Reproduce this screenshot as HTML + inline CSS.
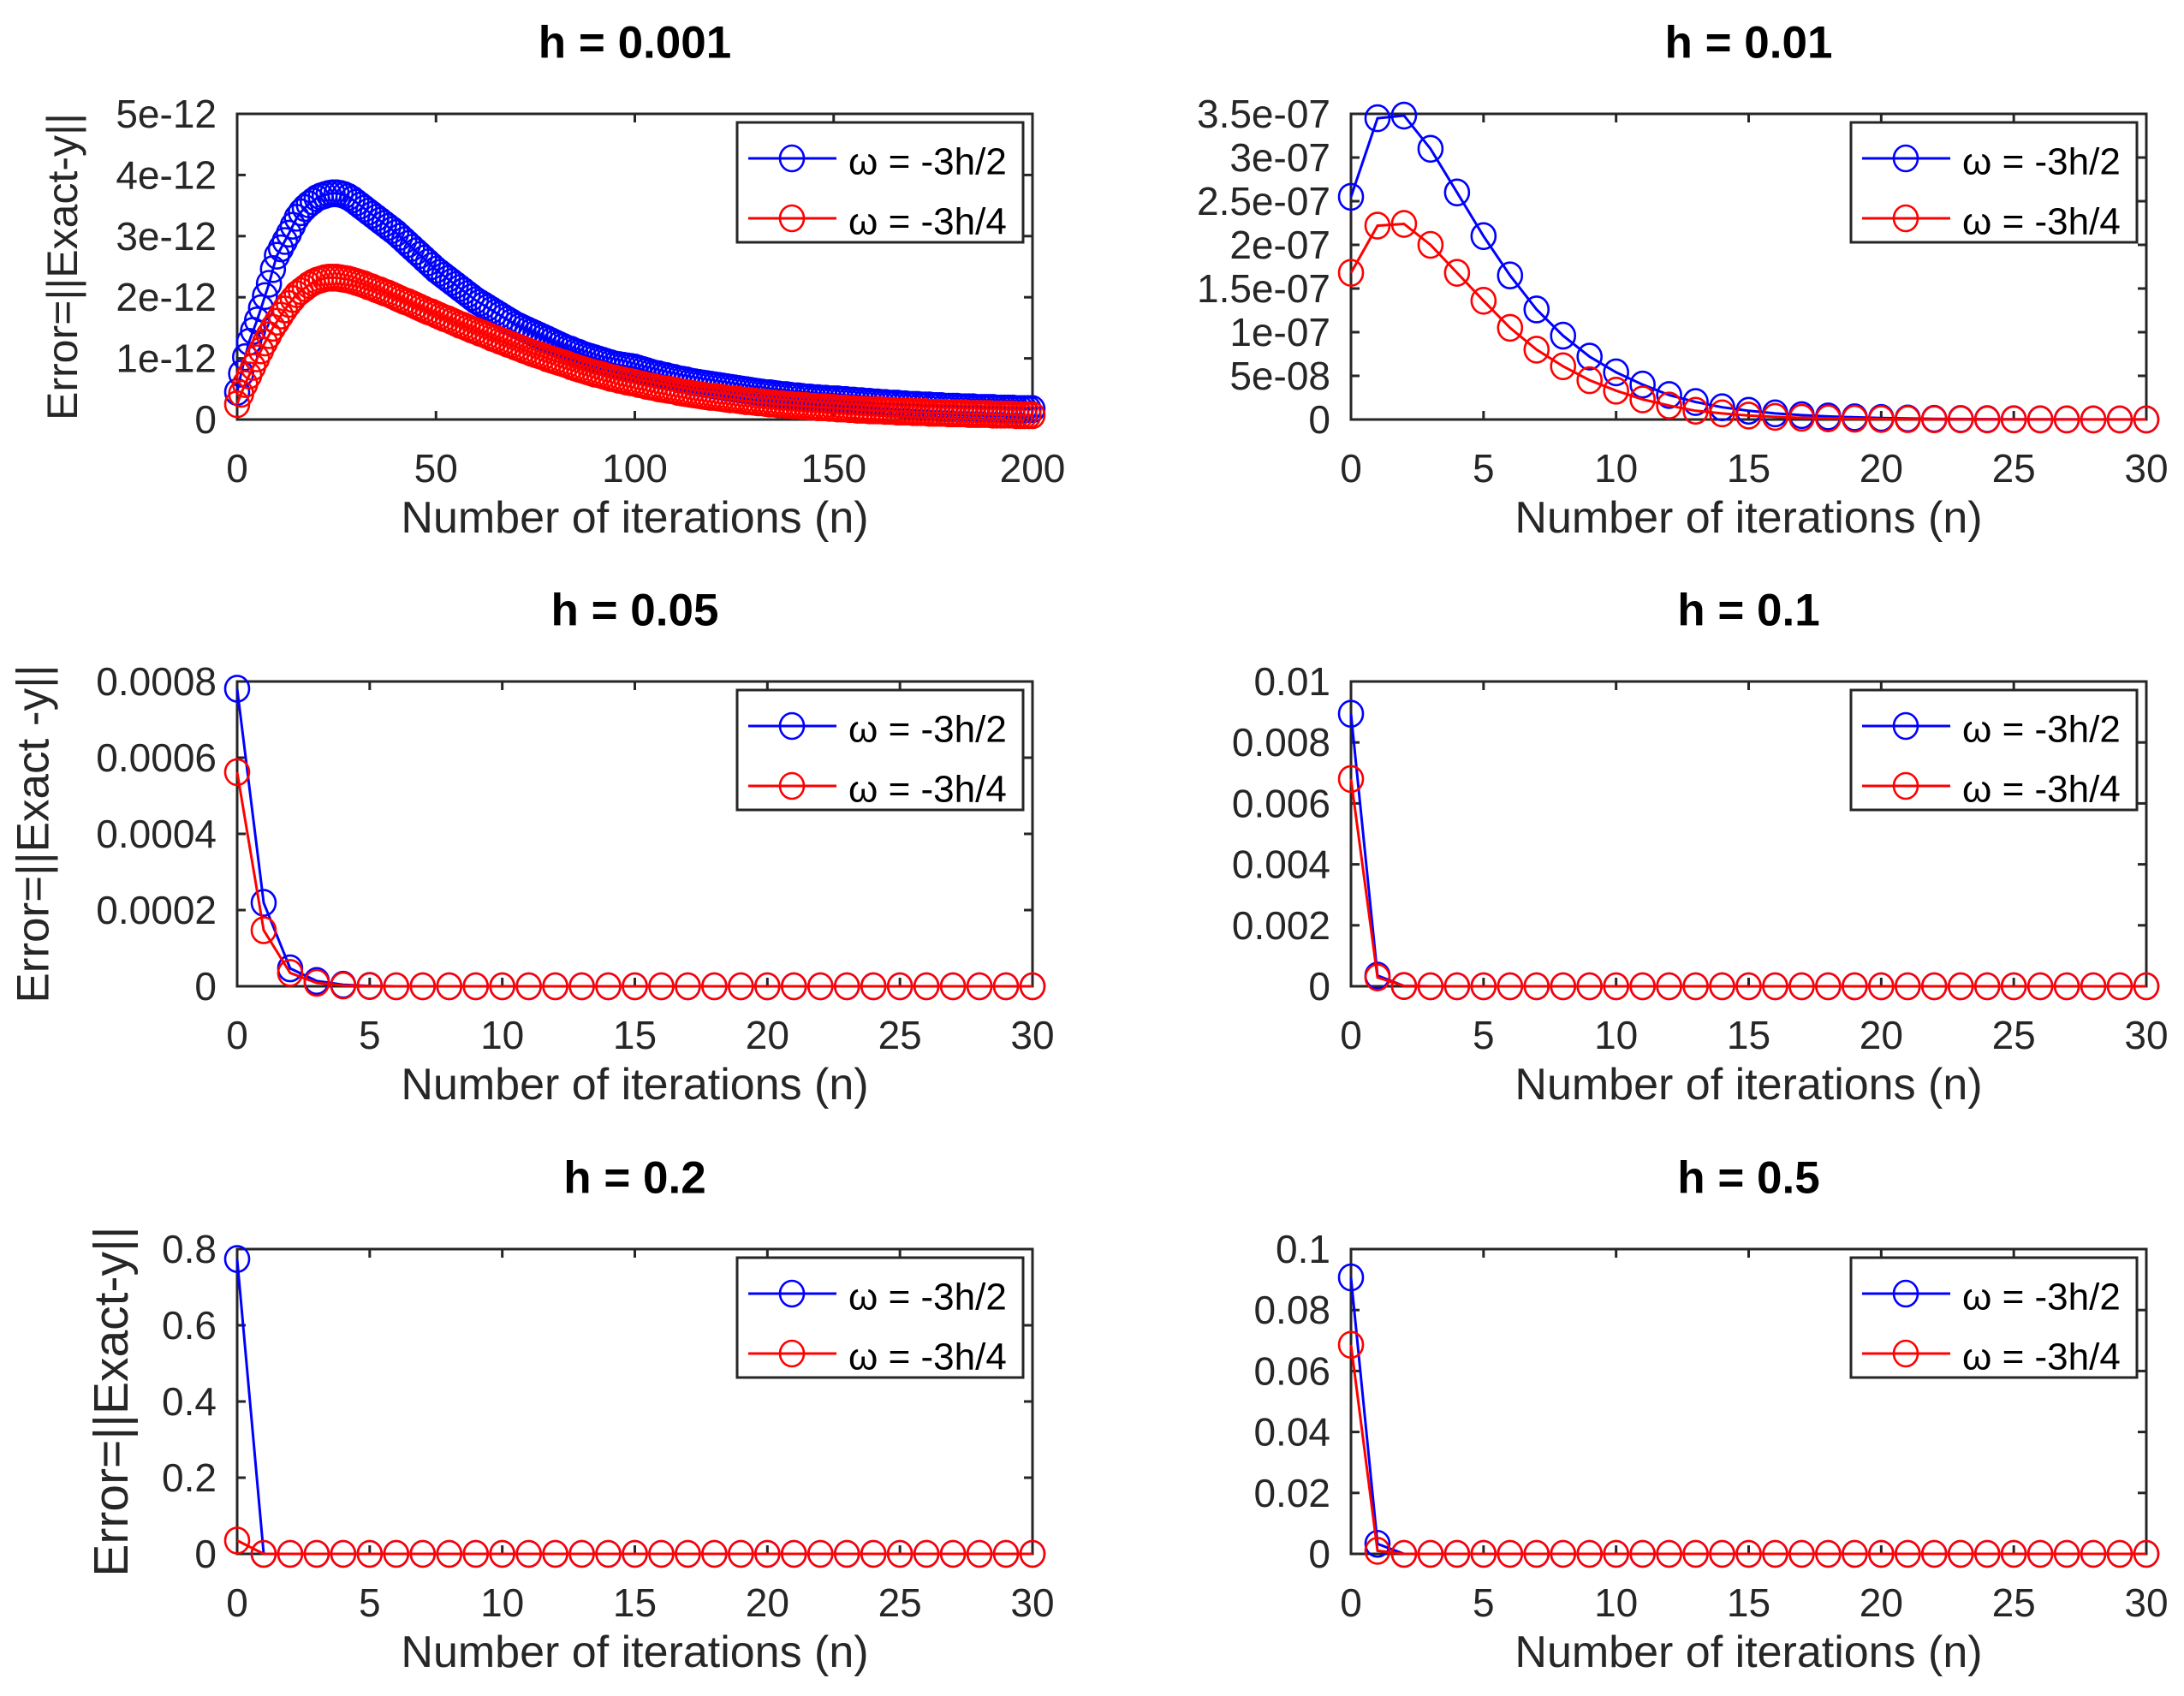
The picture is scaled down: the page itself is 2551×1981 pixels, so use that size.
<!DOCTYPE html>
<html><head><meta charset="utf-8"><style>
html,body{margin:0;padding:0;background:#fff;}
svg{display:block;font-family:"Liberation Sans",sans-serif;}
</style></head><body>
<svg id="fig" width="2551" height="1981" viewBox="0 0 2551 1981" xmlns="http://www.w3.org/2000/svg"></svg>
<script>
// ---------- data ----------
const p1Blue = [0.45,0.75,1.02,1.27,1.45,1.62,1.82,2.02,2.22,2.46,2.68,2.8,2.92,3.04,3.17,3.3,3.39,3.46,3.52,3.57,3.62,3.65,3.67,3.69,3.7,
3.7,3.69,3.67,3.64,3.6,3.55,3.5,3.45,3.4,3.35,3.3,3.25,3.2,3.15,3.1,3.05,2.99,2.93,2.87,2.81,2.75,2.69,2.63,2.57,2.51,2.45,
2.4,2.35,2.3,2.25,2.2,2.15,2.1,2.05,2.0,1.95,1.91,1.87,1.83,1.79,1.75,1.71,1.67,1.63,1.59,1.55,1.52,1.49,1.46,1.43,1.4,
1.37,1.34,1.31,1.28,1.25,1.22,1.19,1.16,1.14,1.11,1.09,1.06,1.04,1.02,1.0,0.98,0.96,0.94,0.92,0.9,0.89,0.88,0.87,0.86,0.85,
0.83,0.81,0.79,0.77,0.75,0.74,0.72,0.71,0.69,0.68,0.66,0.65,0.64,0.62,0.61,0.6,0.59,0.58,0.57,0.56,0.55,0.54,0.53,0.52,0.51,
0.5,0.49,0.48,0.47,0.46,0.45,0.44,0.43,0.43,0.42,0.41,0.4,0.4,0.39,0.38,0.38,0.37,0.36,0.36,0.35,0.35,0.34,0.34,0.33,0.33,
0.33,0.32,0.32,0.31,0.31,0.3,0.3,0.29,0.29,0.28,0.28,0.27,0.27,0.26,0.26,0.26,0.25,0.25,0.24,0.24,0.24,0.23,0.23,0.23,0.22,
0.22,0.22,0.21,0.21,0.21,0.21,0.2,0.2,0.2,0.2,0.19,0.19,0.19,0.19,0.19,0.18,0.18,0.18,0.18,0.18,0.17,0.17,0.17,0.17,0.17];
const p1Red = [0.25,0.42,0.58,0.72,0.86,1.0,1.13,1.26,1.38,1.5,1.6,1.7,1.8,1.89,1.97,2.05,2.1,2.15,2.2,2.24,2.27,2.29,2.31,2.32,2.32,
2.32,2.31,2.3,2.29,2.27,2.25,2.23,2.21,2.18,2.16,2.13,2.11,2.08,2.06,2.03,2.0,1.97,1.94,1.92,1.89,1.86,1.83,1.8,1.77,1.75,1.72,
1.69,1.66,1.64,1.61,1.58,1.55,1.53,1.5,1.47,1.45,1.42,1.4,1.37,1.34,1.32,1.29,1.27,1.24,1.22,1.19,1.17,1.14,1.12,1.09,1.07,
1.05,1.03,1.0,0.98,0.96,0.94,0.92,0.9,0.87,0.85,0.83,0.81,0.79,0.77,0.75,0.74,0.72,0.7,0.68,0.67,0.65,0.64,0.62,0.61,0.6,
0.58,0.57,0.55,0.54,0.53,0.51,0.5,0.49,0.48,0.47,0.45,0.44,0.43,0.42,0.41,0.4,0.39,0.38,0.37,0.37,0.36,0.35,0.34,0.33,0.33,
0.32,0.31,0.3,0.3,0.29,0.28,0.28,0.27,0.26,0.26,0.25,0.25,0.24,0.24,0.23,0.23,0.22,0.22,0.21,0.21,0.2,0.2,0.2,0.19,0.19,
0.18,0.18,0.18,0.17,0.17,0.16,0.16,0.16,0.15,0.15,0.15,0.15,0.14,0.14,0.14,0.13,0.13,0.13,0.13,0.12,0.12,0.12,0.12,0.11,0.11,
0.11,0.11,0.11,0.1,0.1,0.1,0.1,0.1,0.09,0.09,0.09,0.09,0.09,0.09,0.08,0.08,0.08,0.08,0.08,0.08,0.07,0.07,0.07,0.07,0.07];
const p2Blue = [2.55,3.45,3.48,3.1,2.6,2.1,1.65,1.26,0.96,0.72,0.54,0.4,0.28,0.2,0.14,0.1,0.07,0.05,0.035,0.025,0.018,0.012,0.008,0.006,0.004,0.003,0.002,0.0015,0.001,0.0007,0.0005];
const p2Red = [1.68,2.22,2.24,2.0,1.68,1.36,1.05,0.8,0.61,0.45,0.33,0.23,0.16,0.1,0.07,0.045,0.03,0.02,0.013,0.009,0.006,0.004,0.003,0.002,0.001,0.001,0.0005,0.0003,0.0002,0.0001,0.0001];
const p3Blue = [7.81,2.19,0.47,0.14,0.04,0.01,0,0,0,0,0,0,0,0,0,0,0,0,0,0,0,0,0,0,0,0,0,0,0,0,0];
const p3Red = [5.62,1.47,0.35,0.09,0.02,0.005,0,0,0,0,0,0,0,0,0,0,0,0,0,0,0,0,0,0,0,0,0,0,0,0,0];
const p4Blue = [8.94,0.35,0.01,0,0,0,0,0,0,0,0,0,0,0,0,0,0,0,0,0,0,0,0,0,0,0,0,0,0,0,0];
const p4Red = [6.8,0.29,0.01,0,0,0,0,0,0,0,0,0,0,0,0,0,0,0,0,0,0,0,0,0,0,0,0,0,0,0,0];
const p5Blue = [0.774,0,0,0,0,0,0,0,0,0,0,0,0,0,0,0,0,0,0,0,0,0,0,0,0,0,0,0,0,0,0];
const p5Red = [0.035,0,0,0,0,0,0,0,0,0,0,0,0,0,0,0,0,0,0,0,0,0,0,0,0,0,0,0,0,0,0];
const p6Blue = [0.0907,0.0033,0,0,0,0,0,0,0,0,0,0,0,0,0,0,0,0,0,0,0,0,0,0,0,0,0,0,0,0,0];
const p6Red = [0.0686,0.001,0,0,0,0,0,0,0,0,0,0,0,0,0,0,0,0,0,0,0,0,0,0,0,0,0,0,0,0,0];
const titles = ["h = 0.001","h = 0.01","h = 0.05","h = 0.1","h = 0.2","h = 0.5"];
const ylabels = ["Error=||Exact-y||","","Error=||Exact -y||","","Error=||Exact-y||",""];
const xTicks200 = [0,50,100,150,200];
const xTicks30 = [0,5,10,15,20,25,30];
const p1YTicks = [0,1,2,3,4,5];
const p1YTickLabels = ["0","1e-12","2e-12","3e-12","4e-12","5e-12"];
const p2YTicks = [0,0.5,1,1.5,2,2.5,3,3.5];
const p2YTickLabels = ["0","5e-08","1e-07","1.5e-07","2e-07","2.5e-07","3e-07","3.5e-07"];
const p3YTicks = [0,2,4,6,8];
const p3YTickLabels = ["0","0.0002","0.0004","0.0006","0.0008"];
const p4YTicks = [0,2,4,6,8,10];
const p4YTickLabels = ["0","0.002","0.004","0.006","0.008","0.01"];
const p5YTicks = [0,0.2,0.4,0.6,0.8];
const p5YTickLabels = ["0","0.2","0.4","0.6","0.8"];
const p6YTicks = [0,0.02,0.04,0.06,0.08,0.1];
const p6YTickLabels = ["0","0.02","0.04","0.06","0.08","0.1"];
const legendLabels = ["\u03c9 = -3h/2","\u03c9 = -3h/4"];

// ---------- layout ----------
const NS = "http://www.w3.org/2000/svg";
const svg = document.getElementById('fig');
const cols = [[277,1206],[1578,2507]];
const rows = [[133,490],[796,1152],[1459,1815]];
const ylabX = [73,null,39,null,130,null];
const ylabSize = [50,0,53,0,57,0];
const AX = "#262626";

function el(tag, attrs, parent){
  const e = document.createElementNS(NS, tag);
  for (const k in attrs) e.setAttribute(k, attrs[k]);
  (parent||svg).appendChild(e);
  return e;
}

const panels = [
  {blue:p1Blue, red:p1Red, xmax:200, ymax:5, xt:xTicks200, yt:p1YTicks, ytl:p1YTickLabels},
  {blue:p2Blue, red:p2Red, xmax:30, ymax:3.5, xt:xTicks30, yt:p2YTicks, ytl:p2YTickLabels},
  {blue:p3Blue, red:p3Red, xmax:30, ymax:8, xt:xTicks30, yt:p3YTicks, ytl:p3YTickLabels},
  {blue:p4Blue, red:p4Red, xmax:30, ymax:10, xt:xTicks30, yt:p4YTicks, ytl:p4YTickLabels},
  {blue:p5Blue, red:p5Red, xmax:30, ymax:0.8, xt:xTicks30, yt:p5YTicks, ytl:p5YTickLabels},
  {blue:p6Blue, red:p6Red, xmax:30, ymax:0.1, xt:xTicks30, yt:p6YTicks, ytl:p6YTickLabels}
];

panels.forEach((p, i) => {
  const [x0,x1] = cols[i%2];
  const [y0,y1] = rows[Math.floor(i/2)];
  const xs = v => x0 + (v/p.xmax)*(x1-x0);
  const ys = v => y1 - (v/p.ymax)*(y1-y0);
  const g = el('g', {});
  
  

  const t = el('text', {x:(x0+x1)/2, y:y0-83, 'text-anchor':'middle', 'dominant-baseline':'central', 'font-size':53, 'font-weight':'bold', fill:'#000'}, g);
  t.textContent = titles[i];
  
  

  const box = el('rect', {x:x0, y:y0, width:x1-x0, height:y1-y0, fill:'none', stroke:AX, 'stroke-width':3}, g);
  
  

  p.xt.forEach(v => {
    const X = xs(v);
    el('line', {x1:X, y1:y1, x2:X, y2:y1-10, stroke:AX, 'stroke-width':3}, g);
    el('line', {x1:X, y1:y0, x2:X, y2:y0+10, stroke:AX, 'stroke-width':3}, g);
    const tl = el('text', {x:X, y:y1+57, 'text-anchor':'middle', 'dominant-baseline':'central', 'font-size':46, fill:AX}, g);
    tl.textContent = String(v);
    
    
  });
  p.yt.forEach((v, k) => {
    const Y = ys(v);
    el('line', {x1:x0, y1:Y, x2:x0+10, y2:Y, stroke:AX, 'stroke-width':3}, g);
    el('line', {x1:x1, y1:Y, x2:x1-10, y2:Y, stroke:AX, 'stroke-width':3}, g);
    const tl = el('text', {x:x0-24, y:Y, 'text-anchor':'end', 'dominant-baseline':'central', 'font-size':46, fill:AX}, g);
    tl.textContent = p.ytl[k];
    
    
  });

  const xl = el('text', {x:(x0+x1)/2, y:y1+115, 'text-anchor':'middle', 'dominant-baseline':'central', 'font-size':52, fill:AX}, g);
  xl.textContent = "Number of iterations (n)";
  
  

  if (ylabels[i]) {
    const cy = (y0+y1)/2;
    const yl = el('text', {x:ylabX[i], y:cy, 'text-anchor':'middle', 'dominant-baseline':'central', 'font-size':ylabSize[i], fill:AX, transform:`rotate(-90 ${ylabX[i]} ${cy})`}, g);
    yl.textContent = ylabels[i];
    
    
  }

  [[p.blue,'#0000ff','series-omega-3h2'],[p.red,'#ff0000','series-omega-3h4']].forEach(([arr,col,nm]) => {
    const sg = el('g', {}, g);
    
    
    const pts = arr.map((v,n) => xs(n).toFixed(1)+','+ys(v).toFixed(1)).join(' ');
    const pl = el('polyline', {points:pts, fill:'none', stroke:col, 'stroke-width':3}, sg);
    
    
    arr.forEach((v,n) => {
      const c = el('ellipse', {cx:xs(n), cy:ys(v), rx:14, ry:15, fill:'none', stroke:col, 'stroke-width':2.6}, sg);
      
      
    });
  });

  const lx = x1-345, ly = y0+10;
  const lg = el('g', {}, g);
  
  
  el('rect', {x:lx, y:ly, width:334, height:140, fill:'#fff', stroke:AX, 'stroke-width':3}, lg);
  [['#0000ff',42],['#ff0000',112]].forEach(([col,dy], k) => {
    const e = el('g', {}, lg);
    
    
    el('line', {x1:lx+13, y1:ly+dy, x2:lx+116, y2:ly+dy, stroke:col, 'stroke-width':3}, e);
    el('ellipse', {cx:lx+64, cy:ly+dy, rx:14, ry:15, fill:'none', stroke:col, 'stroke-width':2.6}, e);
    const tx = el('text', {x:lx+130, y:ly+dy+4, 'dominant-baseline':'central', 'font-size':44, fill:'#000'}, e);
    tx.textContent = legendLabels[k];
  });
});
</script>
</body></html>
